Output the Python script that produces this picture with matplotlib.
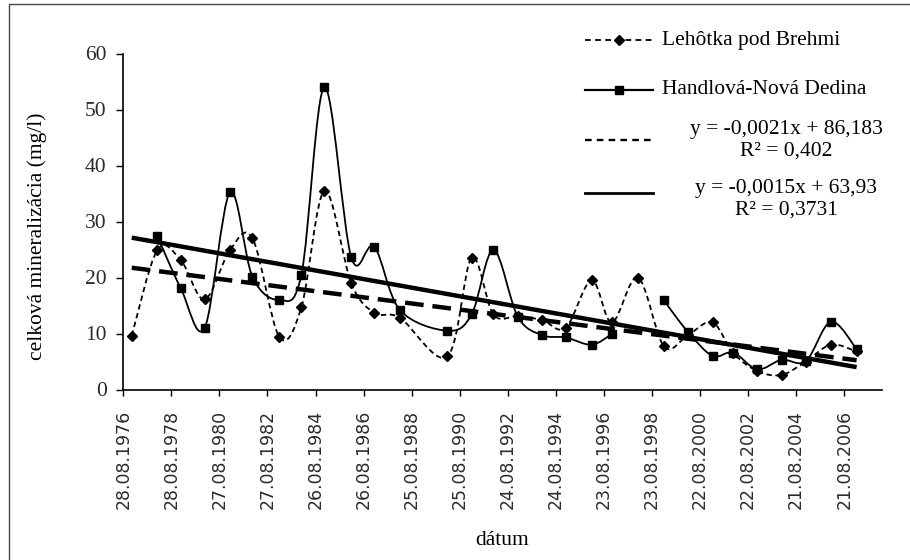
import numpy as np
import pandas as pd
import matplotlib
matplotlib.use('Agg')
import matplotlib.pyplot as plt
from matplotlib.path import Path
from matplotlib.patches import PathPatch
from matplotlib.lines import Line2D

# sampling dates (approx. one sample per year, 1989 missing)
dates = ['1977-01-03', '1978-01-26', '1979-01-17', '1980-01-15', '1981-02-03',
         '1982-01-11', '1983-02-22', '1984-01-24', '1985-01-08', '1986-02-19',
         '1987-02-02', '1988-02-28', '1990-02-18', '1991-02-21', '1992-01-18',
         '1993-01-22', '1994-01-29', '1995-01-19', '1996-02-17', '1996-12-21',
         '1998-01-21', '1999-02-19', '2000-02-18', '2001-02-27', '2002-01-07',
         '2003-01-07', '2004-01-12', '2005-01-15', '2006-01-30', '2007-02-24']

lehotka = [9.6, 24.9, 23.1, 16.1, 24.9, 27.0, 9.4, 14.7, 35.5, 19.0,
           13.7, 12.8, 5.9, 23.5, 13.4, 13.1, 12.4, 11.0, 19.5, 12.0,
           20.0, 7.7, 9.7, 12.0, 6.5, 3.3, 2.6, 5.0, 8.0, 6.8]

handlova = [np.nan, 27.4, 18.1, 11.0, 35.2, 20.1, 16.0, 20.5, 54.0, 23.6,
            25.5, 14.2, 10.5, 13.4, 24.9, 13.0, 9.7, 9.3, 8.0, 9.9,
            np.nan, 15.9, 10.3, 6.0, 6.6, 3.6, 5.3, 5.1, 12.1, 7.2]

# linear trends (x = excel serial date)
trend_a = (-0.0021, 86.183)
trend_b = (-0.0015, 63.93)
label_a = 'y = -0,0021x + 86,183\nR² = 0,402'
label_b = 'y = -0,0015x + 63,93\nR² = 0,3731'

EXCEL0 = pd.Timestamp('1899-12-30')
x_start = 28000      # 28.08.1976
x_step = 730
n_ticks = 16
x_end = 39515

SERIF = 'Liberation Serif'
W, H = 910, 560


def fx(px):
    return px / W


def fy(py):
    return 1 - py / H


def smooth_path(x, y):
    # excel-like smoothed line (bezier through the points), broken at gaps
    x = np.asarray(x, float)
    y = np.asarray(y, float)
    idx = np.flatnonzero(~np.isnan(y))
    runs = np.split(idx, np.flatnonzero(np.diff(idx) > 1) + 1)
    verts, codes = [], []
    for r in runs:
        px, py = x[r], y[r]
        n = len(r)
        verts.append((px[0], py[0]))
        codes.append(Path.MOVETO)
        for i in range(n - 1):
            i0 = max(i - 1, 0)
            i3 = min(i + 2, n - 1)
            c1 = (px[i] + (px[i + 1] - px[i0]) / 6, py[i] + (py[i + 1] - py[i0]) / 6)
            c2 = (px[i + 1] - (px[i3] - px[i]) / 6, py[i + 1] - (py[i3] - py[i]) / 6)
            verts += [c1, c2, (px[i + 1], py[i + 1])]
            codes += [Path.CURVE4] * 3
    return Path(verts, codes)


xs = np.array([(pd.Timestamp(d) - EXCEL0).days for d in dates], float)

fig = plt.figure(figsize=(9.1, 5.6), dpi=100)
ax = fig.add_axes([fx(123.3), fy(389.5), (881.5 - 123.3) / W, (389.5 - 53.5) / H])

leh_dash = (0, (3.0, 2.0))
ax.add_patch(PathPatch(smooth_path(xs, lehotka), fill=False, ec='k', lw=1.3, ls=leh_dash))
ax.plot(xs, lehotka, ls='none', marker='D', ms=5, color='k')
ax.add_patch(PathPatch(smooth_path(xs, handlova), fill=False, ec='k', lw=1.3))
ax.plot(xs, handlova, ls='none', marker='s', ms=6.2, color='k')

tx = np.array([xs[0], xs[-1]])
ax.plot(tx, trend_a[0] * tx + trend_a[1], color='k', lw=3.2, solid_capstyle='butt')
ax.plot(tx, trend_b[0] * tx + trend_b[1], color='k', lw=3.2, ls=(0, (4.2, 2.0)))

ax.set_xlim(x_start, x_end)
ax.set_ylim(0, 60)
ticks = x_start + x_step * np.arange(n_ticks)
ax.set_xticks(ticks)
ax.set_xticklabels([(EXCEL0 + pd.Timedelta(days=int(t))).strftime('%d.%m.%Y') for t in ticks],
                   rotation=90, family='DejaVu Sans', fontsize=12.5, color='#2a2a2a')
ax.set_yticks(np.arange(0, 61, 10))
for lab in ax.get_yticklabels():
    lab.set_family(SERIF)
    lab.set_fontsize(15.5)
    lab.set_color('#2a2a2a')
ax.tick_params(axis='y', direction='out', length=5, width=1, pad=7)
ax.tick_params(axis='x', direction='out', length=4.5, width=1, pad=10)
for s in ['top', 'right']:
    ax.spines[s].set_visible(False)
for s in ['left', 'bottom']:
    ax.spines[s].set_linewidth(1.2)

ax.set_ylabel('celková mineralizácia (mg/l)', family=SERIF, fontsize=15.5, va='center')
ax.yaxis.set_label_coords(-0.1135, 0.455)
ax.set_xlabel('dátum', family=SERIF, fontsize=15.5, va='center')
ax.xaxis.set_label_coords(0.5, -0.448)

# legend drawn by hand, in figure pixels
lx0, lx1 = 585, 653
lxm = (lx0 + lx1) / 2
fig.add_artist(Line2D([fx(lx0), fx(lxm), fx(lx1)], [fy(40)] * 3, color='k', lw=1.3,
                      ls=(0, (3.2, 2.4)), marker='D', ms=5, markevery=[1],
                      transform=fig.transFigure))
fig.add_artist(Line2D([fx(lx0), fx(lxm), fx(lx1)], [fy(90)] * 3, color='k', lw=1.6,
                      marker='s', ms=6.2, markevery=[1], transform=fig.transFigure))
fig.add_artist(Line2D([fx(lx0), fx(lx1)], [fy(140)] * 2, color='k', lw=1.7,
                      ls=(0, (2.8, 2.2)), transform=fig.transFigure))
fig.add_artist(Line2D([fx(lx0), fx(lx1)], [fy(193)] * 2, color='k', lw=2.0,
                      transform=fig.transFigure))
fig.text(fx(662), fy(40), 'Lehôtka pod Brehmi', family=SERIF, fontsize=15.5, va='center')
fig.text(fx(662), fy(90), 'Handlová-Nová Dedina', family=SERIF, fontsize=15.5, va='center')
fig.text(fx(786), fy(140), label_a, family=SERIF, fontsize=15.5, va='center', ha='center',
         multialignment='center', linespacing=1.2)
fig.text(fx(786), fy(199), label_b, family=SERIF, fontsize=15.5, va='center', ha='center',
         multialignment='center', linespacing=1.2)

# chart frame (left and top edges visible)
fig.add_artist(Line2D([fx(9), fx(9), fx(912)], [fy(562), fy(4), fy(4)], color='#444444',
                      lw=1.0, transform=fig.transFigure))

fig.savefig('out.png', dpi=100)
